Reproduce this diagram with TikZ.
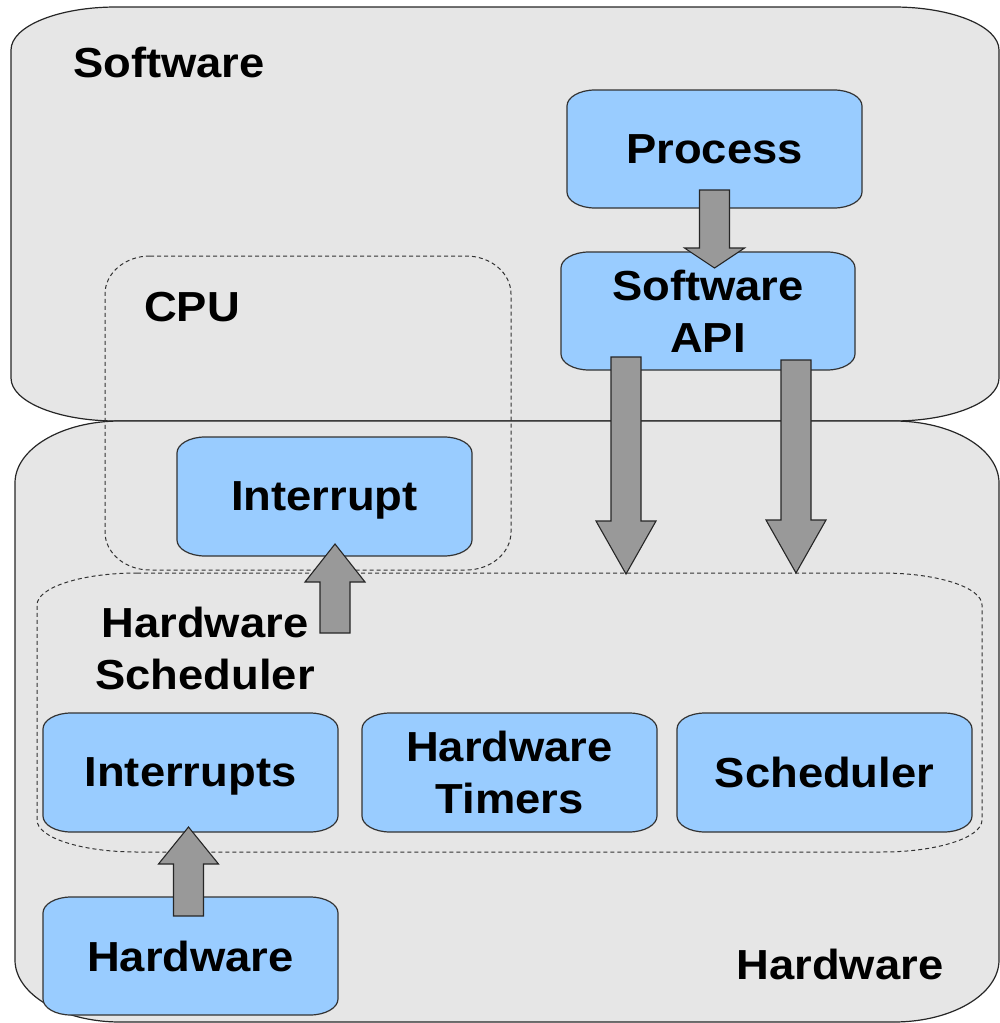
\documentclass[tikz,border=0pt]{standalone}
\usepackage{fontspec}
\setmainfont{Liberation Sans}[FakeStretch=1.08,BoldFeatures={FakeStretch=1.08}]
\usetikzlibrary{calc}
\pgfdeclarelayer{background}
\pgfsetlayers{background,main}

\definecolor{regionfill}{HTML}{E6E6E6}
\definecolor{boxblue}{HTML}{99CCFF}
\definecolor{arrowgray}{HTML}{999999}

% rectangle with elliptical corners, given by explicit corner points
\newcommand\erect[7]{% style, x1, y1, x2, y2, rx, ry
  \path[#1] (#2+#6,#3) -- (#4-#6,#3)
    .. controls (#4-0.4477*#6,#3) and (#4,#3+0.4477*#7) .. (#4,#3+#7)
    -- (#4,#5-#7)
    .. controls (#4,#5-0.4477*#7) and (#4-0.4477*#6,#5) .. (#4-#6,#5)
    -- (#2+#6,#5)
    .. controls (#2+0.4477*#6,#5) and (#2,#5-0.4477*#7) .. (#2,#5-#7)
    -- (#2,#3+#7)
    .. controls (#2,#3+0.4477*#7) and (#2+0.4477*#6,#3) .. cycle;
}
% the same outline drawn round a named node
\newcommand\eshape[4]{% style, node, rx, ry
  \path[#1] let \p1=(#2.north west), \p2=(#2.south east) in
    (\x1+#3pt,\y1) -- (\x2-#3pt,\y1)
    .. controls (\x2-0.4477*#3pt,\y1) and (\x2,\y1-0.4477*#4pt) .. (\x2,\y1-#4pt)
    -- (\x2,\y2+#4pt)
    .. controls (\x2,\y2+0.4477*#4pt) and (\x2-0.4477*#3pt,\y2) .. (\x2-#3pt,\y2)
    -- (\x1+#3pt,\y2)
    .. controls (\x1+0.4477*#3pt,\y2) and (\x1,\y2+0.4477*#4pt) .. (\x1,\y2+#4pt)
    -- (\x1,\y1-#4pt)
    .. controls (\x1,\y1-0.4477*#4pt) and (\x1+0.4477*#3pt,\y1) .. cycle;
}
% vertical block arrow from tail to tip
\newcommand\blockarrow[3]{% tail, tip, head length
  \path[fatarrow] let \p1=(#1), \p2=(#2), \n1={ifthenelse(\y2>\y1,1,-1)} in
    (\x1-15pt,\y1) -- (\x1-15pt,\y2-\n1*#3pt) -- (\x1-30pt,\y2-\n1*#3pt)
    -- (\x1,\y2) -- (\x1+30pt,\y2-\n1*#3pt) -- (\x1+15pt,\y2-\n1*#3pt)
    -- (\x1+15pt,\y1) -- cycle;
}

\tikzset{
  region/.style={fill=regionfill, draw=black!85, line width=1.2pt},
  groupline/.style={draw=black!80, dash pattern=on 4pt off 3pt, line width=1pt},
  boxshape/.style={fill=boxblue, draw=black!80, line width=1.2pt},
  bigtext/.style={font=\bfseries\fontsize{42}{52}\selectfont, align=center,
    inner sep=0pt, text depth=0pt},
  boxnode/.style={bigtext, minimum width=295pt, minimum height=118pt, outer sep=0pt},
  groupnode/.style={inner sep=0pt, outer sep=0pt},
  fatarrow/.style={fill=arrowgray, draw=black!85, line width=1.1pt, line join=miter},
}

\begin{document}
\begin{tikzpicture}[x=1pt, y=-1pt]
\useasboundingbox (0,0) rectangle (1000,1023);

% layer labels
\node[bigtext] (swlabel) at (169,62) {Software};
\node[bigtext] (hwlabel) at (840,964) {Hardware};

% dashed groups
\node[groupnode, minimum width=406pt, minimum height=314pt] (cpu) at (308,413) {};
\node[bigtext] (cpulabel) at (192,307) {CPU};
\node[groupnode, minimum width=945pt, minimum height=279pt] (hs) at (509.5,712.5) {};
\node[bigtext] (hslabel) at (205,648) {Hardware\\Scheduler};

% blocks
\node[boxnode] (proc)   at (714.5,149)   {Process};
\node[boxnode, minimum width=294pt] (api) at (708,311) {Software\\API};
\node[boxnode, minimum height=119pt] (intr) at (324.5,496.5) {Interrupt};
\node[boxnode, minimum height=119pt] (ints) at (190.5,772.5) {Interrupts};
\node[boxnode, minimum height=119pt] (timers) at (509.5,772.5) {Hardware\\Timers};
\node[boxnode, minimum height=119pt] (sched) at (824.5,772.5) {Scheduler};
\node[boxnode] (hwbox) at (190.5,956) {Hardware};

\coordinate (irqtail) at (335,633);

\begin{pgfonlayer}{background}
  \erect{region}{11}{7}{999}{421}{105}{43}
  \erect{region}{15}{421}{999}{1022}{105}{62}
  \eshape{groupline}{cpu}{45}{38}
  \eshape{groupline}{hs}{100}{32}
  \foreach \b in {proc,api,intr,ints,timers,sched,hwbox}
    {\eshape{boxshape}{\b}{28}{16}}
\end{pgfonlayer}

% connectors
\blockarrow{$(proc.south)+(0,-18)$}{$(api.north)+(0,16)$}{20}
\blockarrow{$(api.south)+(-82,-13)$}{$(hs.north)+(0,1)$}{53}
\blockarrow{$(api.south)+(88,-10)$}{hs.north}{53}
\blockarrow{irqtail}{$(intr.south)+(0,-12)$}{38}
\blockarrow{$(hwbox.north)+(-2,19)$}{$(ints.south)+(0,-5)$}{37}
\end{tikzpicture}
\end{document}
